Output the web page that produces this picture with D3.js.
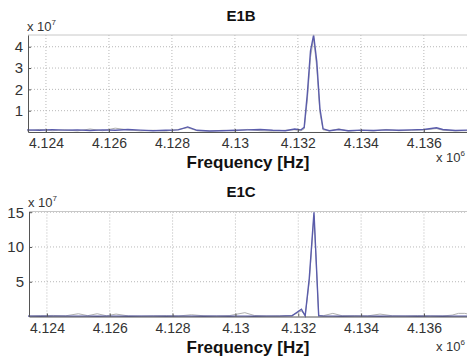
<!DOCTYPE html>
<html><head><meta charset="utf-8">
<script src="https://cdn.jsdelivr.net/npm/d3@7"></script>
<style>body{margin:0;background:#fff}svg{display:block}text{font-family:"Liberation Sans",Arial,sans-serif}</style>
</head><body><div id="chart"></div>
<script>
// ---- data (frequency in units of 10^6 Hz, amplitude in units of 10^7) ----
const xTicks = [4.124, 4.126, 4.128, 4.13, 4.132, 4.134, 4.136];
const xTickLabels = ["4.124", "4.126", "4.128", "4.13", "4.132", "4.134", "4.136"];
const titles = ["E1B", "E1C"];
const yTicksE1B = [1, 2, 3, 4];
const yTicksE1C = [5, 10, 15];

const freqE1B = [4.1234,4.1238,4.1242,4.1246,4.1250,4.1254,4.1258,4.1262,4.1266,4.1270,4.1274,4.1278,4.1282,4.1285,4.1288,4.1292,4.1296,4.1300,4.1304,4.1308,4.1312,4.1316,4.1319,4.1321,4.1322,4.1323,4.1324,4.1325,4.1326,4.1327,4.1328,4.1330,4.1333,4.1336,4.1340,4.1344,4.1348,4.1352,4.1356,4.1360,4.1364,4.1366,4.1370,4.1374];
const blueE1B = [0.10,0.08,0.11,0.09,0.10,0.07,0.10,0.08,0.12,0.09,0.06,0.08,0.10,0.24,0.08,0.05,0.06,0.08,0.10,0.12,0.08,0.06,0.14,0.10,0.22,1.8,3.8,4.55,3.3,1.1,0.15,0.06,0.12,0.06,0.09,0.07,0.10,0.08,0.10,0.12,0.20,0.12,0.07,0.09];
const grayE1B = [0.05,0.12,0.06,0.10,0.05,0.14,0.06,0.18,0.10,0.05,0.08,0.04,0.12,0.20,0.06,0.04,0.08,0.05,0.12,0.06,0.04,0.08,0.10,0.06,0.15,1.5,3.5,4.4,3.0,0.9,0.10,0.05,0.15,0.04,0.08,0.05,0.12,0.06,0.08,0.10,0.16,0.08,0.05,0.06];

const freqE1C = [4.1234,4.1238,4.1242,4.1246,4.1250,4.1253,4.1256,4.1259,4.1262,4.1266,4.1270,4.1274,4.1278,4.1282,4.1286,4.1290,4.1294,4.1298,4.1300,4.1303,4.1306,4.1310,4.1314,4.1318,4.1321,4.13222,4.13235,4.1325,4.13265,4.1328,4.1331,4.1334,4.1338,4.1342,4.1346,4.1350,4.1354,4.1358,4.1362,4.1366,4.1369,4.1371,4.1373,4.1374];
const blueE1C = [0.05,0.04,0.06,0.05,0.06,0.05,0.04,0.06,0.05,0.04,0.05,0.06,0.04,0.05,0.06,0.04,0.05,0.04,0.06,0.05,0.04,0.05,0.06,0.10,1.05,0.10,5.5,15.0,0.10,0.05,0.06,0.04,0.05,0.06,0.04,0.05,0.06,0.04,0.05,0.04,0.05,0.06,0.05,0.06];
const grayE1C = [0.08,0.12,0.15,0.10,0.40,0.12,0.40,0.10,0.35,0.08,0.06,0.10,0.12,0.08,0.25,0.10,0.08,0.12,0.30,0.55,0.15,0.08,0.10,0.15,0.80,0.12,5.0,14.5,0.15,0.12,0.45,0.10,0.12,0.08,0.35,0.10,0.08,0.12,0.10,0.08,0.20,0.45,0.45,0.35];

const panels = [
  {title: titles[0], freq: freqE1B, blue: blueE1B, gray: grayE1B, yTicks: yTicksE1B, ymax: 4.55,
   top: 35, bottom: 132, left: 28, titleY: 21, tickY: 144, labelY: 168, expY: 162, yexpY: 31},
  {title: titles[1], freq: freqE1C, blue: blueE1C, gray: grayE1C, yTicks: yTicksE1C, ymax: 15.1,
   top: 211.5, bottom: 316.5, left: 29, titleY: 197, tickY: 329, labelY: 353, expY: 351, yexpY: 207}
];

const W = 467, H = 358, RIGHT = 467;
const svg = d3.select("#chart").append("svg").attr("width", W).attr("height", H);

panels.forEach(p => {
  const x = d3.scaleLinear().domain([4.12343, 4.13737]).range([p.left, RIGHT]);
  const y = d3.scaleLinear().domain([0, p.ymax]).range([p.bottom, p.top]);
  const g = svg.append("g");

  // grid
  g.selectAll(".vg").data(xTicks).join("line")
    .attr("x1", d => x(d)).attr("x2", d => x(d)).attr("y1", p.top).attr("y2", p.bottom)
    .attr("stroke", "#b8b8b8").attr("stroke-dasharray", "1,2").attr("stroke-width", 1);
  g.selectAll(".hg").data(p.yTicks).join("line")
    .attr("x1", p.left).attr("x2", RIGHT).attr("y1", d => y(d)).attr("y2", d => y(d))
    .attr("stroke", "#b8b8b8").attr("stroke-dasharray", "1,2").attr("stroke-width", 1);

  // lines
  const line = d3.line().x((d, i) => x(p.freq[i])).y(d => y(d));
  g.append("path").datum(p.gray).attr("d", line).attr("fill", "none")
    .attr("stroke", "#b0b0b0").attr("stroke-width", 1);
  g.append("path").datum(p.blue).attr("d", line).attr("fill", "none")
    .attr("stroke", "#5a5cab").attr("stroke-width", 1.4);

  // frame
  g.append("line").attr("x1", p.left).attr("x2", RIGHT).attr("y1", p.top).attr("y2", p.top)
    .attr("stroke", "#c8c8c8");
  // axes
  const xAxis = d3.axisBottom(x).tickValues(xTicks).tickFormat((d, i) => xTickLabels[i]).tickSizeInner(-3).tickSizeOuter(0).tickPadding(7);
  const ax = g.append("g").attr("transform", `translate(0,${p.bottom})`).call(xAxis);
  ax.select(".domain").attr("stroke", "#555");
  ax.selectAll(".tick line").attr("stroke", "#555");
  ax.selectAll("text").attr("font-size", 14).attr("fill", "#333").attr("dy", null)
    .attr("y", p.tickY - p.bottom).attr("dominant-baseline", "middle");

  const yAxis = d3.axisLeft(y).tickValues(p.yTicks).tickFormat(d3.format("d")).tickSizeInner(-3).tickSizeOuter(0).tickPadding(5);
  const ay = g.append("g").attr("transform", `translate(${p.left},0)`).call(yAxis);
  ay.select(".domain").attr("stroke", "#555");
  ay.selectAll(".tick line").attr("stroke", "#555");
  ay.selectAll("text").attr("font-size", 15).attr("fill", "#333").attr("x", -5);

  // texts
  svg.append("text").attr("x", 241).attr("y", p.titleY).attr("text-anchor", "middle")
    .attr("font-size", 15).attr("font-weight", "bold").attr("fill", "#111").text(p.title);
  svg.append("text").attr("x", 248).attr("y", p.labelY).attr("text-anchor", "middle")
    .attr("font-size", 17).attr("font-weight", "bold").attr("fill", "#111").text("Frequency [Hz]");
  const e = svg.append("text").attr("x", 436).attr("y", p.expY).attr("font-size", 13).attr("fill", "#333");
  e.append("tspan").text("x 10");
  e.append("tspan").attr("dy", -6).attr("font-size", 8).text("6");
  const ey = svg.append("text").attr("x", p.left - 1).attr("y", p.yexpY).attr("font-size", 13).attr("fill", "#333");
  ey.append("tspan").text("x 10");
  ey.append("tspan").attr("dy", -6).attr("font-size", 8).text("7");
});
</script>
</body></html>
